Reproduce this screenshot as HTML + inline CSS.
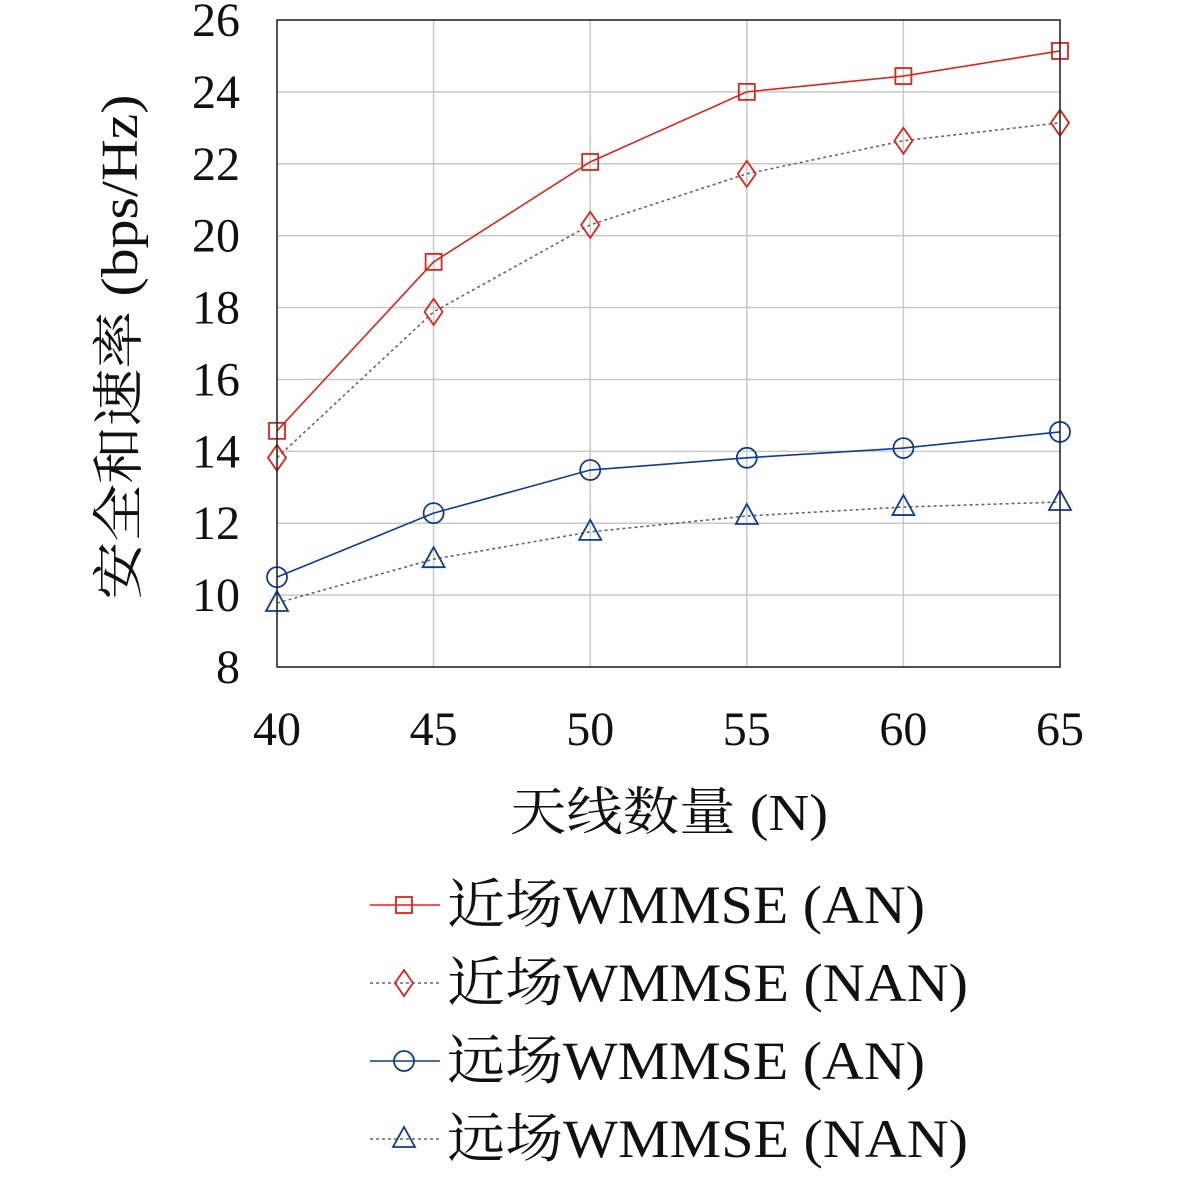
<!DOCTYPE html>
<html><head><meta charset="utf-8"><style>
html,body{margin:0;padding:0;background:#fff}
svg text{font-family:"Liberation Serif","Noto Serif CJK SC","Noto Sans CJK SC",serif;fill:#111}
</style></head><body>
<svg id="chart" width="1181" height="1179" xmlns="http://www.w3.org/2000/svg">
<g id="grid"></g>
<g id="ticks"></g>
<g id="series"></g>
<rect x="277" y="20" width="783" height="647" fill="none" stroke="#222" stroke-width="1.5"/>
<text x="125" y="347" font-size="52" text-anchor="middle" textLength="505" lengthAdjust="spacingAndGlyphs" transform="rotate(-90 125 347)" dominant-baseline="middle">安全和速率 (bps/Hz)</text>
<text x="669" y="830" font-size="52" text-anchor="middle" textLength="318" lengthAdjust="spacingAndGlyphs">天线数量 (N)</text>
<g id="legend"></g>
</svg>
<script>
const categories=[40,45,50,55,60,65];
const yTicks=[8,10,12,14,16,18,20,22,24,26];
const nearAN=[14.57,19.27,22.05,24.0,24.44,25.14];
const nearNAN=[13.82,17.88,20.3,21.72,22.64,23.14];
const farAN=[10.5,12.28,13.48,13.82,14.09,14.54];
const farNAN=[9.78,11.0,11.76,12.2,12.45,12.59];
const seriesNames=["近场WMMSE (AN)","近场WMMSE (NAN)","远场WMMSE (AN)","远场WMMSE (NAN)"];
const NS="http://www.w3.org/2000/svg";
const X0=277,X1=1060,Y0=667,Y1=20;
function xs(v){return X0+(v-40)/(65-40)*(X1-X0);}
function ys(v){return Y0-(v-8)/(26-8)*(Y0-Y1);}
function mk(tag,attrs,parent){const e=document.createElementNS(NS,tag);for(const k in attrs)e.setAttribute(k,attrs[k]);parent.appendChild(e);return e;}
const grid=document.getElementById('grid'),ticks=document.getElementById('ticks'),ser=document.getElementById('series'),leg=document.getElementById('legend');
categories.forEach(c=>{
 const l=mk('line',{x1:xs(c),x2:xs(c),y1:Y1,y2:Y0,stroke:'#c8c8c8','stroke-width':1.5},grid);
 
 
 const t=mk('text',{x:xs(c),y:745,'font-size':48,'text-anchor':'middle'},ticks);t.textContent=c;
 
 
});
yTicks.forEach(v=>{
 const l=mk('line',{x1:X0,x2:X1,y1:ys(v),y2:ys(v),stroke:'#c8c8c8','stroke-width':1.5},grid);
 
 
 const t=mk('text',{x:240,y:ys(v)+16,'font-size':48,'text-anchor':'end'},ticks);t.textContent=v;
 
 
});
function marker(type,x,y,color,g){
 let e;
 if(type==='sq')e=mk('rect',{x:x-8,y:y-8,width:16,height:16},g);
 else if(type==='di')e=mk('polygon',{points:`${x},${y-13} ${x+9},${y} ${x},${y+13} ${x-9},${y}`},g);
 else if(type==='ci')e=mk('circle',{cx:x,cy:y,r:10},g);
 else e=mk('polygon',{points:`${x},${y-12} ${x+11},${y+8} ${x-11},${y+8}`},g);
 e.setAttribute('fill','none');e.setAttribute('stroke',color);e.setAttribute('stroke-width',1.8);
 
 
}
const legendLens=[478,521,478,521];
const defs=[[nearAN,'#d7261e','sq',''],[nearNAN,'#d7261e','di','3,3'],[farAN,'#103c8c','ci',''],[farNAN,'#103c8c','tr','3,3']];
defs.forEach((d,i)=>{
 const g=mk('g',{},ser);
 
 
 const pts=d[0].map((v,j)=>xs(categories[j])+','+ys(v)).join(' ');
 const pl=mk('polyline',{points:pts,fill:'none',stroke:d[3]?'#666':d[1],'stroke-width':1.6,'stroke-dasharray':d[3]},g);
 
 
 d[0].forEach((v,j)=>marker(d[2],xs(categories[j]),ys(v),d[1],g));
 const ly=905+i*78;
 const lg=mk('g',{},leg);
 
 
 mk('line',{x1:370,x2:440,y1:ly,y2:ly,stroke:d[3]?'#666':d[1],'stroke-width':1.6,'stroke-dasharray':d[3]},lg);
 marker(d[2],404,ly,d[1],lg);
 const t=mk('text',{x:447,y:ly+18,'font-size':54,textLength:legendLens[i],lengthAdjust:'spacingAndGlyphs'},lg);t.textContent=seriesNames[i];
 
 
});
</script>
</body></html>
